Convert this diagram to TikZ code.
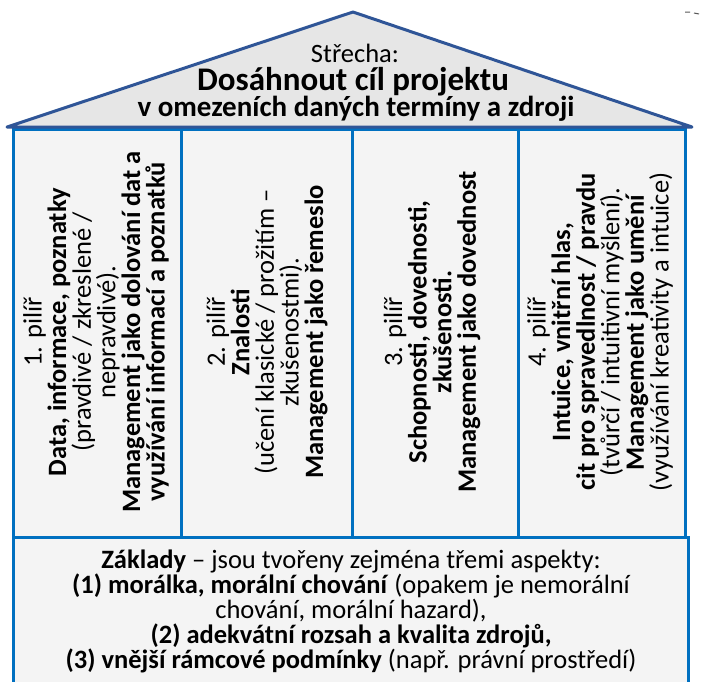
\documentclass[tikz,border=0pt]{standalone}
\usepackage{fontspec}
\setmainfont{Carlito}
\definecolor{roofblue}{HTML}{2F5597}
\definecolor{roofgray}{HTML}{E6E6E6}
\definecolor{pillarblue}{HTML}{0070C0}
\definecolor{pillarfill}{HTML}{F4F4F4}
\begin{document}
\begin{tikzpicture}[x=1pt,y=-1pt,
  roof/.style={draw=roofblue, fill=roofgray, line width=3pt, line join=round},
  pillarbox/.style={draw=pillarblue, fill=pillarfill, line width=3pt,
    rectangle, inner sep=0pt, outer sep=0pt, minimum height=408pt},
  basebox/.style={draw=pillarblue, fill=pillarfill, line width=3pt,
    rectangle, inner sep=0pt, outer sep=0pt},
  rooftext/.style={anchor=base, inner sep=0pt},
  pillartext/.style={rotate=90, align=center, inner sep=0pt,
    font=\fontsize{26.5}{24.6}\selectfont},
  basetext/.style={align=center, inner sep=0pt,
    font=\fontsize{26.5}{25}\selectfont},
]
\clip (0,0) rectangle (702,681);
\fill[white] (0,0) rectangle (702,681);

% pillars
\node[pillarbox, minimum width=168pt] (p1) at (97,333) {};
\node[pillarbox, minimum width=171pt] (p2) at (266.5,333) {};
\node[pillarbox, minimum width=166pt] (p3) at (435,333) {};
\node[pillarbox, minimum width=167pt] (p4) at (601.5,333) {};

% foundation
\node[basebox, minimum width=675pt, minimum height=183pt] (base) at (350.5,628.5) {};

% roof
\draw[roof] (7,127) -- (353,12) -- (692,127) -- cycle;

\node[rooftext, text depth=0pt, font=\fontsize{26.5}{28}\selectfont] (roofhead) at (355,62) {Střecha:};
\node[rooftext, text height=20pt, text depth=4pt, font=\bfseries\fontsize{33}{33}\selectfont] (roofgoal) at (353,90) {Dosáhnout cíl projektu};
\node[rooftext, text height=19pt, text depth=6pt, font=\bfseries\fontsize{29}{29}\selectfont] (roofscope) at (356,116) {v omezeních daných termíny a zdroji};

% pillar texts
\node[pillartext] (t1) at (96,332) {1. pilíř\\ \textbf{Data, informace, poznatky}\\ (pravdivé / zkreslené /\\ nepravdivé).\\ \textbf{Management jako dolování dat a}\\ \textbf{využívání informací a poznatků}};
\node[pillartext] (t2) at (267,332) {2. pilíř\\ \textbf{Znalosti}\\ (učení klasické / prožitím –\\ zkušenostmi).\\ \textbf{Management jako řemeslo}};
\node[pillartext] (t3) at (432,332) {3. pilíř\\ \textbf{Schopnosti, dovednosti,}\\ \textbf{zkušenosti.}\\ \textbf{Management jako dovednost}};
\node[pillartext] (t4) at (600,332) {4. pilíř\\ \textbf{Intuice, vnitřní hlas,}\\ \textbf{cit pro spravedlnost / pravdu}\\ (tvůrčí / intuitivní myšlení).\\ \textbf{Management jako umění}\\ (využívání kreativity a intuice)};

% foundation text
\node[basetext] (t5) at (351,611) {\textbf{Základy} – jsou tvořeny zejména třemi aspekty:\\ \textbf{(1) morálka, morální chování} (opakem je nemorální\\ chování, morální hazard),\\ \textbf{(2) adekvátní rozsah a kvalita zdrojů,}\\ \textbf{(3) vnější rámcové podmínky} (např. právní prostředí)};

% small marks in the upper right corner
\coordinate (m1a) at (685,12); \coordinate (m1b) at (690,12);
\coordinate (m2a) at (694,13); \coordinate (m2b) at (699,14);
\draw[black!65, line width=1pt] (m1a) -- (m1b) (m2a) -- (m2b);
\end{tikzpicture}
\end{document}
